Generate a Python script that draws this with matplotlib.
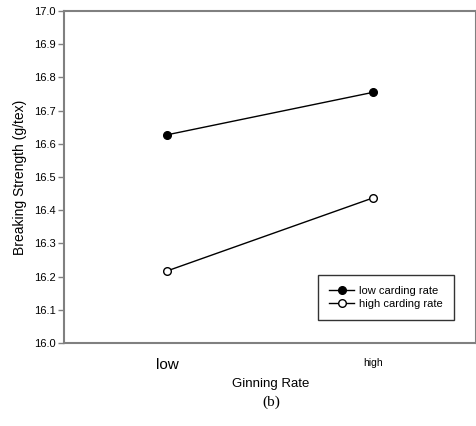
import matplotlib.pyplot as plt

# ginning rate levels and mean breaking strength for each carding rate
ginning = ['low', 'high']
low_carding = [16.627, 16.755]
high_carding = [16.217, 16.437]

plt.rcParams['font.family'] = ['Liberation Sans', 'DejaVu Sans']

W, H = 477, 426
fig = plt.figure(figsize=(W / 100, H / 100), dpi=100)
ax = fig.add_axes([64 / W, 1 - 343 / H, 412 / W, 332 / H])

x = range(len(ginning))
ax.plot(x, low_carding, '-o', color='black', lw=1, ms=5.5,
        mfc='black', mec='black', label='low carding rate')
ax.plot(x, high_carding, '-o', color='black', lw=1, ms=5.5,
        mfc='white', mec='black', label='high carding rate')

ax.set_xlim(-0.5, 1.5)
ax.set_ylim(16.0, 17.0)
ax.set_yticks([16.0 + i * 0.1 for i in range(11)])
ax.set_yticklabels(['%.1f' % (16.0 + i * 0.1) for i in range(11)], fontsize=8)
ax.set_xticks(list(x))
ax.set_xticklabels(ginning)
ax.get_xticklabels()[0].set_fontsize(11)
ax.get_xticklabels()[1].set_fontsize(7.5)
ax.tick_params(axis='x', length=0, pad=11)
ax.tick_params(axis='y', length=4, width=1, color='#808080', pad=2)

for s in ax.spines.values():
    s.set_color('#808080')
    s.set_linewidth(1.5)

ax.set_ylabel('Breaking Strength (g/tex)', fontsize=10, labelpad=5)
fig.text(271 / W, 1 - 384 / H, 'Ginning Rate', fontsize=9.5, ha='center', va='center')
fig.text(271 / W, 1 - 402 / H, '(b)', fontsize=11, ha='center', va='center',
         family='Liberation Serif')

leg = ax.legend(loc='lower right', bbox_to_anchor=(0.947, 0.069), fontsize=8,
                frameon=True, fancybox=False, edgecolor='black', handlelength=2.2,
                borderpad=1.0, handletextpad=0.5, labelspacing=0.3, borderaxespad=0)
leg.get_frame().set_linewidth(1)

fig.savefig('out.png', dpi=100)
